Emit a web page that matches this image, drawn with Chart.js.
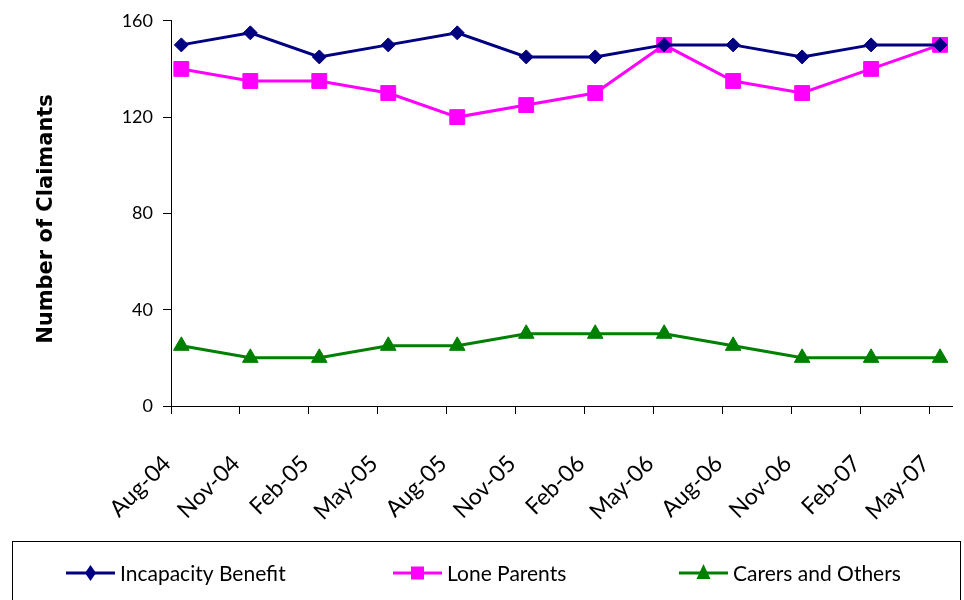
<!DOCTYPE html>
<html><head><meta charset="utf-8">
<script src="https://cdn.jsdelivr.net/npm/chart.js@4.4.1/dist/chart.umd.min.js"></script>
<style>html,body{margin:0;padding:0;background:#fff}canvas{display:block}</style>
</head><body>
<canvas id="c" width="964" height="600"></canvas>
<script>
const categories = ['Aug-04','Nov-04','Feb-05','May-05','Aug-05','Nov-05','Feb-06','May-06','Aug-06','Nov-06','Feb-07','May-07'];
const incapacityBenefit = [150,155,145,150,155,145,145,150,150,145,150,150];
const loneParents       = [140,135,135,130,120,125,130,150,135,130,140,150];
const carersAndOthers   = [25,20,20,25,25,30,30,30,25,20,20,20];
const yTickValues = [0,40,80,120,160];
const seriesNames = ['Incapacity Benefit','Lone Parents','Carers and Others'];
const yTitle = 'Number of Claimants';

const FONT = 'Lato, "Open Sans", "DejaVu Sans", sans-serif';
const TITLE_FONT = '"DejaVu Sans", Verdana, sans-serif';
const tickShift = 0.15;   // date-axis ticks sit slightly before each data point
const toPoints = arr => arr.map((v, i) => ({x: i, y: v}));

function drawMarker(ctx, style, x, y, color) {
  ctx.fillStyle = color;
  ctx.beginPath();
  if (style === 'rectRot') {
    ctx.moveTo(x, y - 8); ctx.lineTo(x + 5.5, y); ctx.lineTo(x, y + 8); ctx.lineTo(x - 5.5, y);
  } else if (style === 'rect') {
    ctx.rect(x - 6.5, y - 6.5, 13, 13);
  } else {
    ctx.moveTo(x, y - 9); ctx.lineTo(x + 7, y + 6); ctx.lineTo(x - 7, y + 6);
  }
  ctx.closePath();
  ctx.fill();
}

const boxLegend = {
  id: 'boxLegend',
  afterDraw(chart) {
    const ctx = chart.ctx;
    ctx.save();
    // y-axis title
    ctx.save();
    ctx.translate(47, 219);
    ctx.rotate(-Math.PI / 2);
    ctx.font = 'bold 21px ' + TITLE_FONT;
    ctx.fillStyle = '#000';
    ctx.textAlign = 'center';
    ctx.textBaseline = 'middle';
    ctx.fillText(yTitle, 0, 0);
    ctx.restore();
    // legend box
    ctx.strokeStyle = '#000';
    ctx.lineWidth = 1;
    ctx.strokeRect(12.5, 541.5, 948, 80);
    const slots = [66, 393, 679];
    ctx.font = '21px ' + FONT;
    ctx.textBaseline = 'middle';
    ctx.textAlign = 'left';
    chart.data.datasets.forEach((ds, i) => {
      const x0 = slots[i], y = 573;
      ctx.strokeStyle = ds.borderColor;
      ctx.lineWidth = 3;
      ctx.beginPath(); ctx.moveTo(x0, y); ctx.lineTo(x0 + 49, y); ctx.stroke();
      drawMarker(ctx, ds.pointStyle, x0 + 24.5, y, ds.borderColor);
      ctx.fillStyle = '#000';
      ctx.fillText(ds.label, x0 + 54, y + 1);
    });
    ctx.restore();
  }
};

new Chart(document.getElementById('c'), {
  type: 'line',
  data: {
    datasets: [
      {label: seriesNames[0], data: toPoints(incapacityBenefit), borderColor: '#000080', backgroundColor: '#000080',
       pointStyle: 'rectRot', pointRadius: 7, pointBorderWidth: 1, borderWidth: 3},
      {label: seriesNames[1], data: toPoints(loneParents), borderColor: '#FF00FF', backgroundColor: '#FF00FF',
       pointStyle: 'rect', pointRadius: 10.5, pointBorderWidth: 1, borderWidth: 3},
      {label: seriesNames[2], data: toPoints(carersAndOthers), borderColor: '#008000', backgroundColor: '#008000',
       pointStyle: 'triangle', pointRadius: 9, pointBorderWidth: 1, borderWidth: 3}
    ]
  },
  options: {
    responsive: false,
    animation: false,
    devicePixelRatio: 1,
    layout: {padding: {top: 20, right: 7, bottom: 59, left: 0}},
    plugins: {legend: {display: false}, tooltip: {enabled: false}},
    scales: {
      x: {
        type: 'linear',
        min: -tickShift,
        max: 11.18,
        afterBuildTicks: s => { s.ticks = categories.map((_, i) => ({value: i - tickShift})); },
        afterFit: s => { s.height = 135; s.paddingLeft = 0; s.paddingRight = 0; },
        grid: {drawOnChartArea: false, drawTicks: true, tickLength: 8, color: '#000'},
        border: {display: true, color: '#000', width: 1},
        ticks: {
          autoSkip: false, minRotation: 45, maxRotation: 45, padding: 36, labelOffset: -4,
          color: '#000', font: {family: FONT, size: 23},
          callback: (v, i) => categories[i]
        }
      },
      y: {
        min: 0, max: 160,
        afterBuildTicks: s => { s.ticks = yTickValues.map(v => ({value: v})); },
        afterFit: s => { s.width = 171; },
        grid: {drawOnChartArea: false, drawTicks: true, tickLength: 8, color: '#000'},
        border: {display: true, color: '#000', width: 1},
        ticks: {padding: 10, color: '#000', font: {family: FONT, size: 18}},
        title: {display: false}
      }
    }
  },
  plugins: [boxLegend]
});
</script>
</body></html>
